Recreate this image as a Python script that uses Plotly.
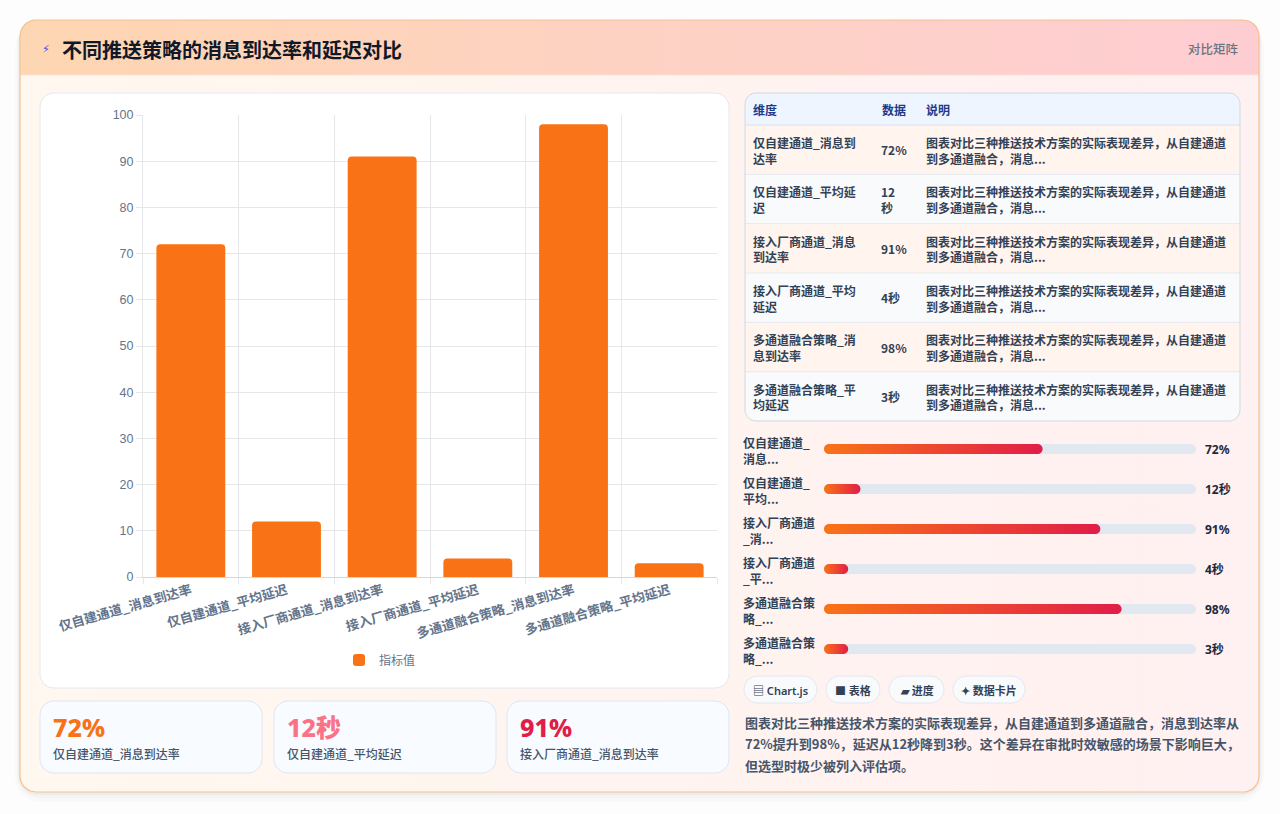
import math
import plotly.graph_objects as go

# ---------------- data ----------------
title_text = "不同推送策略的消息到达率和延迟对比"
badge_text = "对比矩阵"
categories = [
    "仅自建通道_消息到达率",
    "仅自建通道_平均延迟",
    "接入厂商通道_消息到达率",
    "接入厂商通道_平均延迟",
    "多通道融合策略_消息到达率",
    "多通道融合策略_平均延迟",
]
values = [72, 12, 91, 4, 98, 3]
units = ["%", "秒", "%", "秒", "%", "秒"]
series_name = "指标值"
y_tick_values = [0, 10, 20, 30, 40, 50, 60, 70, 80, 90, 100]
table_headers = ["维度", "数据", "说明"]
row_note = "图表对比三种推送技术方案的实际表现差异，从自建通道<br>到多通道融合，消息..."
view_tags = ["▤ Chart.js", "■ 表格", "▰ 进度", "✦ 数据卡片"]
summary_lines = [
    "图表对比三种推送技术方案的实际表现差异，从自建通道到多通道融合，消息到达率从",
    "72%提升到98%，延迟从12秒降到3秒。这个差异在审批时效敏感的场景下影响巨大，",
    "但选型时极少被列入评估项。",
]
kpi_count = 3

# ---------------- styles ----------------
W, H = 1280, 814
CJK = "Noto Sans CJK SC"
NUM = "Noto Sans, Noto Sans CJK SC"
ORANGE = "#f97316"
kpi_colors = ["#f97316", "#fb7185", "#e11d48"]

display = [f"{v}{u}" for v, u in zip(values, units)]


def rpath(x0, y0, x1, y1, rx, ry=None, corners=(1, 1, 1, 1), n=10):
    """Rounded rectangle outline in a y-down coordinate system. corners = tl, tr, br, bl."""
    if ry is None:
        ry = rx
    xs, ys = [], []
    spec = [
        (x0 + rx, y0 + ry, math.pi, 1.5 * math.pi, corners[0], (x0, y0)),
        (x1 - rx, y0 + ry, 1.5 * math.pi, 2 * math.pi, corners[1], (x1, y0)),
        (x1 - rx, y1 - ry, 0, 0.5 * math.pi, corners[2], (x1, y1)),
        (x0 + rx, y1 - ry, 0.5 * math.pi, math.pi, corners[3], (x0, y1)),
    ]
    for cx, cy, a0, a1, rounded, sq in spec:
        if rounded:
            for k in range(n + 1):
                a = a0 + (a1 - a0) * k / n
                xs.append(cx + rx * math.cos(a))
                ys.append(cy + ry * math.sin(a))
        else:
            xs.append(sq[0])
            ys.append(sq[1])
    xs.append(xs[0])
    ys.append(ys[0])
    return xs, ys


fig = go.Figure()


def deco(xs, ys, fill=None, line=None, lw=1, grad=None, axes=("x", "y")):
    kw = dict(x=xs, y=ys, hoverinfo="skip", showlegend=False, xaxis=axes[0], yaxis=axes[1])
    if fill is not None or grad is not None:
        kw["fill"] = "toself"
        kw["fillcolor"] = fill if fill else "rgba(0,0,0,0)"
    if grad is not None:
        kw["fillgradient"] = dict(type="horizontal", colorscale=[[0, grad[0]], [1, grad[1]]])
    if line is not None:
        kw["mode"] = "lines"
        kw["line"] = dict(color=line, width=lw)
    else:
        kw["mode"] = "none"
    fig.add_trace(go.Scatter(**kw))


# ---------- background (pixel coordinate subplot x/y) ----------
for off, a in [(10, 0.015), (6, 0.02), (3, 0.03)]:
    xs, ys = rpath(20 - off / 2, 20 + off / 3, 1259 + off / 2, 792 + off, 16 + off)
    deco(xs, ys, fill=f"rgba(0,0,0,{a})")
xs, ys = rpath(20, 20, 1259, 792, 16)
deco(xs, ys, fill="#fff6f0", grad=("#fff8ef", "#fff0f1"))
xs, ys = rpath(20, 20, 1259, 75, 16, corners=(1, 1, 0, 0))
deco(xs, ys, fill="#fed2c0", grad=("#fdd6b2", "#fecdd3"))
deco([20, 1259], [75, 75], line="#fbe3d3", lw=1)
xs, ys = rpath(20, 20, 1259, 792, 16)
deco(xs, ys, line="#f5c18f", lw=1.2)

# chart panel
xs, ys = rpath(40, 93, 729, 688, 14)
deco(xs, ys, fill="#ffffff", line="#e3e8f0", lw=1)

# KPI cards
card_x = [40, 274, 507]
card_w = 222
for cx in card_x[:kpi_count]:
    xs, ys = rpath(cx, 701, cx + card_w, 773, 14)
    deco(xs, ys, fill="#f8fbff", line="#dde6f3", lw=1)

# table container and rows
TX0, TX1, TY0, TY1 = 745, 1240, 93, 421
HDR = 32
ROWH = (TY1 - TY0 - HDR) / len(categories)
xs, ys = rpath(TX0, TY0, TX1, TY1, 11)
deco(xs, ys, fill="#f8fafc")
xs, ys = rpath(TX0, TY0, TX1, TY0 + HDR, 11, corners=(1, 1, 0, 0))
deco(xs, ys, fill="#eef5ff")
for i in range(len(categories)):
    y0 = TY0 + HDR + i * ROWH
    y1 = y0 + ROWH
    last = i == len(categories) - 1
    xs, ys = rpath(TX0, y0, TX1, y1, 11, corners=(0, 0, 1 if last else 0, 1 if last else 0))
    deco(xs, ys, fill="#fff5ee" if i % 2 == 0 else "#f8fafc")
sep_x, sep_y = [], []
for i in range(1, len(categories)):
    y = TY0 + HDR + i * ROWH
    sep_x += [TX0, TX1, None]
    sep_y += [y, y, None]
deco(sep_x, sep_y, line="#e5e9f0", lw=1)
deco([TX0, TX1], [TY0 + HDR, TY0 + HDR], line="#d6e0ee", lw=1)
xs, ys = rpath(TX0, TY0, TX1, TY1, 11)
deco(xs, ys, line="#cfd8e3", lw=1)

# view tag pills
pill_x = [(744, 817), (826, 880), (889, 944), (953, 1025)]
for (p0, p1) in pill_x:
    xs, ys = rpath(p0, 676, p1, 703, 13.5)
    deco(xs, ys, fill="#f9fafc", line="#e2e8f0", lw=1)

# ---------- main bar chart (x2/y2) ----------
fig.add_trace(go.Bar(
    x=categories, y=values, name=series_name,
    marker=dict(color=ORANGE, cornerradius=4, line=dict(width=0)),
    xaxis="x2", yaxis="y2", hoverinfo="x+y",
))

# ---------- progress bars (x3/y3) ----------
PX0, PX1 = 824, 1196
PY0 = 429
PROWH = 40
BAR_H = 10
rx = (BAR_H / 2) / (PX1 - PX0)
ry = (BAR_H / 2) / PROWH
half = (BAR_H / 2) / PROWH
vmax = max(values)
for i, v in enumerate(values):
    frac = max(v / vmax * 0.8, 0.065)
    yc = i + 0.5
    xs, ys = rpath(0, yc - half, 1, yc + half, rx, ry)
    deco(xs, ys, fill="#e2e8f0", axes=("x3", "y3"))
    xs, ys = rpath(0, yc - half, frac, yc + half, rx, ry)
    deco(xs, ys, fill=ORANGE, grad=("#f97316", "#e11d48"), axes=("x3", "y3"))

# ---------- table ----------
col1 = [c[:9] + "<br>" + c[9:] for c in categories]
col2_text = [d.replace("秒", "<br>秒") if (d.endswith("秒") and len(d) >= 3) else d for d in display]
col3 = [row_note for _ in categories]
fig.add_trace(go.Table(
    domain=dict(x=[TX0 / W, TX1 / W], y=[1 - TY1 / H, 1 - TY0 / H]),
    columnwidth=[129, 44, 322],
    header=dict(
        values=[f"<b>{h}</b>" for h in table_headers],
        fill=dict(color="rgba(0,0,0,0)"),
        line=dict(color="rgba(0,0,0,0)", width=0),
        align="left", height=HDR,
        font=dict(family=CJK, size=12, color="#1e3a8a"),
    ),
    cells=dict(
        values=[col1, ["" for _ in categories], col3],
        fill=dict(color="rgba(0,0,0,0)"),
        line=dict(color="rgba(0,0,0,0)", width=0),
        align="left", height=ROWH,
        font=dict(family=CJK, size=12, color="#334155", weight=600),
    ),
))

# ---------- annotations ----------
ann = []


def text(x, y, s, size=12, color="#334155", weight=400, family=CJK, xanchor="left", yanchor="middle", align="left"):
    ann.append(dict(x=x, y=y, xref="x", yref="y", text=s, showarrow=False,
                    xanchor=xanchor, yanchor=yanchor, align=align,
                    font=dict(size=size, color=color, family=family, weight=weight)))


text(40, 49, "⚡", size=11, color="#4f46e5", family="DejaVu Sans")
text(60, 49, title_text, size=20, color="#111827", weight=700)
text(1241, 48, badge_text, size=12.5, color="#6b7280", weight=500, xanchor="right")

# data column of the table (vertically centred in each row)
for i, d in enumerate(col2_text):
    yc = TY0 + HDR + ROWH * (i + 0.5)
    text(879, yc, d, size=12, color="#334155", weight=600)

for i, c in enumerate(categories):
    yc = PY0 + PROWH * (i + 0.5)
    text(741, yc + 1, c[:6] + "<br>" + c[6:8] + "...", size=12, color="#334155", weight=600)
    text(1203, yc, display[i], size=12, color="#1e293b", weight=700, family=NUM)

for i in range(kpi_count):
    cx = card_x[i] + 11
    text(cx, 727, display[i], size=25, color=kpi_colors[i], weight=800, family=NUM)
    text(cx, 753, categories[i], size=12, color="#475569", weight=500)

for (p0, p1), tag in zip(pill_x, view_tags):
    text((p0 + p1) / 2, 690, tag, size=11, color="#334155", weight=600, xanchor="center",
         family="Noto Sans, Noto Sans CJK SC")

for k, line in enumerate(summary_lines):
    text(743, 722 + 21.5 * k, line, size=13, color="#475569", weight=600)

fig.update_layout(
    width=W, height=H,
    margin=dict(l=0, r=0, t=0, b=0),
    paper_bgcolor="#fdfdfd",
    plot_bgcolor="rgba(0,0,0,0)",
    bargap=0.28,
    showlegend=True,
    legend=dict(
        orientation="h", x=380 / W, y=1 - 660 / H, xanchor="center", yanchor="middle",
        bgcolor="rgba(0,0,0,0)", font=dict(family=CJK, size=12, color="#64748b"),
        itemclick=False, itemdoubleclick=False,
    ),
    annotations=ann,
    xaxis=dict(domain=[0, 1], range=[0, W], visible=False, fixedrange=True),
    yaxis=dict(domain=[0, 1], range=[H, 0], visible=False, fixedrange=True),
    xaxis2=dict(
        domain=[143 / W, 717 / W], anchor="y2", type="category",
        tickson="boundaries", showgrid=True, gridcolor="#e5e7eb", gridwidth=1,
        ticks="outside", ticklen=6, tickcolor="#e5e7eb",
        showline=True, linecolor="#d4d8de", linewidth=1,
        tickangle=-16, automargin=False, fixedrange=True,
        tickfont=dict(family=CJK, size=13, color="#64748b", weight=600),
    ),
    yaxis2=dict(
        domain=[1 - 577 / H, 1 - 115 / H], anchor="x2", range=[0, 100],
        tickvals=y_tick_values, showgrid=True, gridcolor="#e5e7eb", gridwidth=1,
        ticks="outside", ticklen=6, tickcolor="#e5e7eb",
        showline=True, linecolor="#e5e7eb", zeroline=False,
        automargin=False, fixedrange=True,
        tickfont=dict(family="Liberation Sans, Arial", size=12.5, color="#64748b"),
    ),
    xaxis3=dict(domain=[PX0 / W, PX1 / W], anchor="y3", range=[0, 1], visible=False, fixedrange=True),
    yaxis3=dict(domain=[1 - (PY0 + PROWH * len(values)) / H, 1 - PY0 / H], anchor="x3",
                range=[len(values), 0], visible=False, fixedrange=True),
)

fig.write_html("out.html", config={"displayModeBar": False},
               post_script="document.body.style.margin='0';document.body.style.overflow='hidden';")
